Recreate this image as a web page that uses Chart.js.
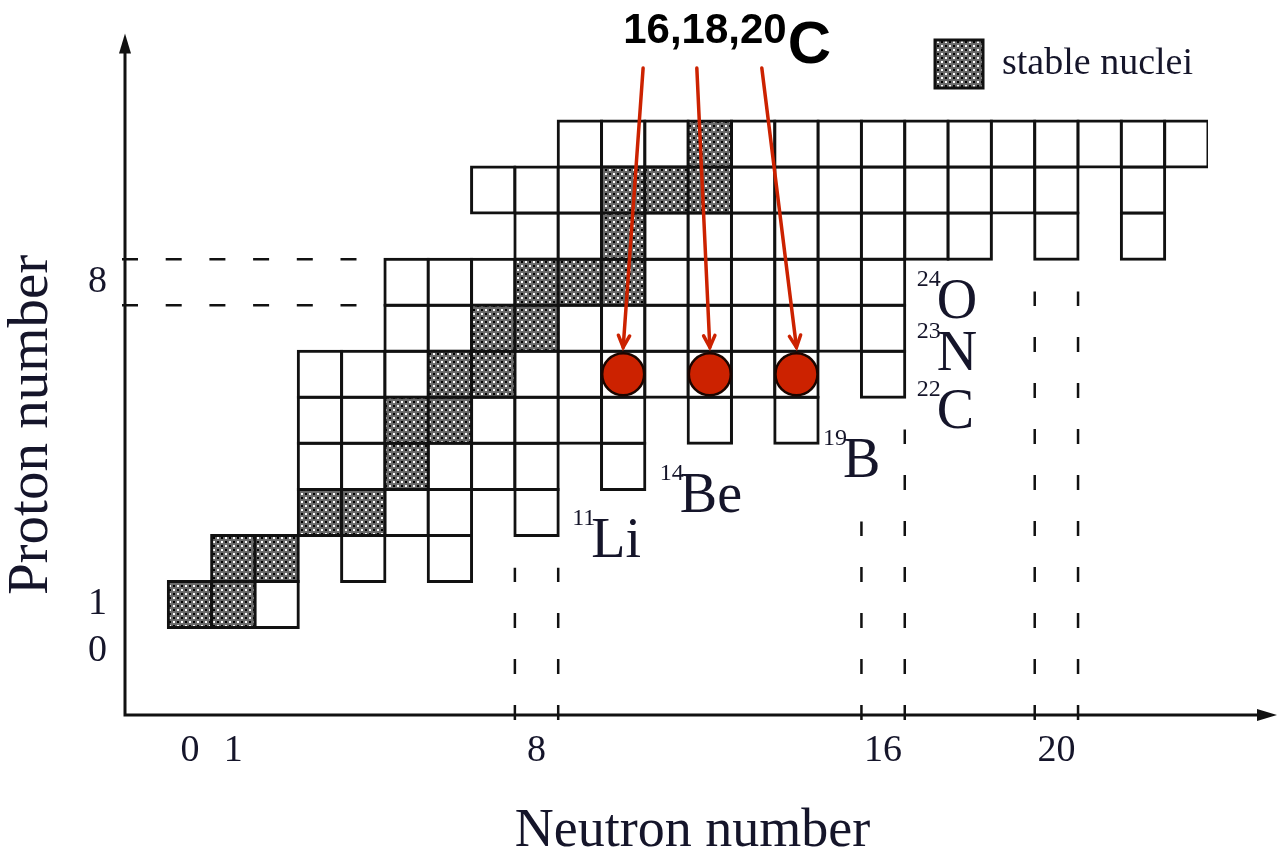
<!DOCTYPE html>
<html>
<head>
<meta charset="utf-8">
<title>Light nuclei and the neutron drip line</title>
<script src="https://cdn.jsdelivr.net/npm/chart.js@4/dist/chart.umd.min.js"></script>
<style>
  html, body { margin: 0; padding: 0; background: #ffffff; }
  #chart { display: block; }
</style>
</head>
<body>
<canvas id="chart" width="1278" height="859"></canvas>
<script>
// ---- chart data -------------------------------------------------------
const elementSymbols = ['H', 'He', 'Li', 'Be', 'B', 'C', 'N', 'O', 'F', 'Ne', 'Na'];
const protonNumbers  = [1, 2, 3, 4, 5, 6, 7, 8, 9, 10, 11];

// neutron numbers of the isotopes drawn in each proton row (same order as protonNumbers)
const isotopeNeutrons = [
  [0, 1, 2],
  [1, 2, 4, 6],
  [3, 4, 5, 6, 8],
  [3, 4, 5, 6, 7, 8, 10],
  [3, 4, 5, 6, 7, 8, 9, 10, 12, 14],
  [3, 4, 5, 6, 7, 8, 9, 10, 11, 12, 13, 14, 16],
  [5, 6, 7, 8, 9, 10, 11, 12, 13, 14, 15, 16],
  [5, 6, 7, 8, 9, 10, 11, 12, 13, 14, 15, 16],
  [8, 9, 10, 11, 12, 13, 14, 15, 16, 17, 18, 20, 22],
  [7, 8, 9, 10, 11, 12, 13, 14, 15, 16, 17, 18, 19, 20, 22],
  [9, 10, 11, 12, 13, 14, 15, 16, 17, 18, 19, 20, 21, 22, 23]
];

// neutron numbers of the stable isotopes in each proton row
const stableNeutrons = [
  [0, 1], [1, 2], [3, 4], [5], [5, 6], [6, 7], [7, 8], [8, 9, 10], [10], [10, 11, 12], [12]
];

// heaviest bound isotope labelled for Li ... O (mass number, proton number)
const dripLineMass = [11, 14, 19, 22, 23, 24];
const dripLineZ    = [3, 4, 5, 6, 7, 8];

// highlighted carbon isotopes
const carbonZ = 6;
const carbonMass = [16, 18, 20];

// axis ticks and magic numbers
const neutronTicks = [0, 1, 8, 16, 20];
const protonTicks  = [0, 1, 8];
const magicNeutrons = [8, 16, 20];
const magicProtons  = [8];

// axis titles
const xTitle = 'Neutron number';
const yTitle = 'Proton number';

// ---- styling / layout -------------------------------------------------
const INK = '#15152a';
const RED = '#cc2200';
const SERIF = "'Liberation Serif', 'Times New Roman', serif";
const SANS = "'Liberation Sans', Arial, sans-serif";

// dashed guide lines: upper end (in proton-number units) of the left / right line of each magic N
const guideTops = { 8: [1.8, 1.8], 16: [2.8, 4.8], 20: [7.8, 7.8] };
const guideLeftEnd = 3.9;  // horizontal guides stop at this neutron number

// label placement next to each drip-line cell: px offset from the cell's right edge / centre
const dripLabelOffsets = { 11: [14, 45], 14: [15, 46], 19: [5, 57], 22: [12, 54], 23: [12, 42], 24: [12, 36] };

// header text and arrow tails, in data units
const headerAnchor = { n: 10.0, z: 13.2 };
const arrowTails = [{ n: 10.46, z: 12.65 }, { n: 11.70, z: 12.65 }, { n: 13.20, z: 12.65 }];

// axis-title centres: x title along N, y title along Z
const xTitleCentreN = 11.6;
const yTitleCentreZ = 4.9;

const canvas = document.getElementById('chart');
const ctx2d = canvas.getContext('2d');

// stippled fill used for stable nuclei
function makeStipple() {
  const tile = document.createElement('canvas');
  tile.width = 8; tile.height = 8;
  const g = tile.getContext('2d');
  g.fillStyle = '#6a6a6a'; g.fillRect(0, 0, 8, 8);
  g.fillStyle = '#ffffff'; g.fillRect(1, 1, 2, 2); g.fillRect(5, 5, 2, 2);
  g.fillStyle = '#000000'; g.fillRect(5, 1, 2, 2); g.fillRect(1, 5, 2, 2);
  return ctx2d.createPattern(tile, 'repeat');
}
const stipple = makeStipple();

// one floating bar per nucleus: x = N, y spans Z-0.5 .. Z+0.5
function cells(stable) {
  const out = [];
  protonNumbers.forEach((z, i) => {
    isotopeNeutrons[i].forEach(n => {
      if (stableNeutrons[i].includes(n) === stable) out.push({ x: n, y: [z - 0.5, z + 0.5] });
    });
  });
  return out;
}

const cellStyle = {
  borderColor: '#111111',
  borderWidth: 3,
  inflateAmount: 1.5,
  borderSkipped: false,
  grouped: false,
  barPercentage: 1,
  categoryPercentage: 1
};

// ---- decorations drawn through the chart scales -----------------------
const decorations = {
  id: 'decorations',
  beforeDatasetsDraw(chart) {
    const { ctx, chartArea: ca, scales: { x, y } } = chart;
    ctx.save();
    ctx.strokeStyle = '#111111';
    ctx.lineWidth = 2.5;
    // vertical guides around magic neutron numbers
    ctx.setLineDash([15, 31]);
    magicNeutrons.forEach(n => {
      [n - 0.5, n + 0.5].forEach((edge, k) => {
        const px = x.getPixelForValue(edge);
        ctx.beginPath();
        ctx.moveTo(px, ca.bottom + 5);
        ctx.lineTo(px, y.getPixelForValue(guideTops[n][k]));
        ctx.stroke();
      });
    });
    // horizontal guides around magic proton numbers
    ctx.setLineDash([16, 27.7]);
    magicProtons.forEach(z => {
      [z - 0.5, z + 0.5].forEach(edge => {
        const py = y.getPixelForValue(edge);
        ctx.beginPath();
        ctx.moveTo(ca.left - 3, py);
        ctx.lineTo(x.getPixelForValue(guideLeftEnd), py);
        ctx.stroke();
      });
    });
    ctx.restore();
  },
  afterDatasetsDraw(chart) {
    const { ctx, scales: { x, y } } = chart;
    ctx.save();

    // drip-line labels, e.g. ^11Li
    ctx.fillStyle = INK;
    ctx.textBaseline = 'alphabetic';
    dripLineMass.forEach((a, i) => {
      const z = dripLineZ[i];
      const n = a - z;
      const [dx, dy] = dripLabelOffsets[a];
      const left = x.getPixelForValue(n + 0.5) + dx;
      const base = y.getPixelForValue(z) + dy;
      ctx.font = `24px ${SERIF}`;
      const supText = String(a);
      ctx.fillText(supText, left, base - 32);
      const supW = ctx.measureText(supText).width;
      ctx.font = `56px ${SERIF}`;
      ctx.fillText(elementSymbols[z - 1], left + supW - 4, base);
    });

    // header "16,18,20C"
    ctx.fillStyle = '#000000';
    const hx = x.getPixelForValue(headerAnchor.n);
    const hy = y.getPixelForValue(headerAnchor.z);
    ctx.font = `bold 42px ${SANS}`;
    const massText = carbonMass.join(',');
    ctx.fillText(massText, hx, hy);
    const mw = ctx.measureText(massText).width;
    ctx.font = `bold 60px ${SANS}`;
    ctx.fillText(elementSymbols[carbonZ - 1], hx + mw + 1, hy + 20);

    // red arrows from the header to the highlighted isotopes
    ctx.strokeStyle = RED;
    ctx.lineWidth = 3.5;
    ctx.lineCap = 'round';
    carbonMass.forEach((a, i) => {
      const tail = arrowTails[i];
      const x0 = x.getPixelForValue(tail.n), y0 = y.getPixelForValue(tail.z);
      const x1 = x.getPixelForValue(a - carbonZ);
      const y1 = y.getPixelForValue(carbonZ) - 21 - 6;
      ctx.beginPath();
      ctx.moveTo(x0, y0); ctx.lineTo(x1, y1);
      ctx.stroke();
      const ang = Math.atan2(y1 - y0, x1 - x0);
      const L = 13, spread = 0.45;
      ctx.beginPath();
      ctx.moveTo(x1 - L * Math.cos(ang - spread), y1 - L * Math.sin(ang - spread));
      ctx.lineTo(x1, y1);
      ctx.lineTo(x1 - L * Math.cos(ang + spread), y1 - L * Math.sin(ang + spread));
      ctx.stroke();
    });
    ctx.restore();
  },
  afterDraw(chart) {
    const { ctx, chartArea: ca, scales: { x, y } } = chart;
    ctx.save();
    ctx.strokeStyle = '#111111';
    ctx.fillStyle = '#111111';
    ctx.lineWidth = 3;
    const ox = ca.left, oy = ca.bottom;
    const yTip = y.getPixelForValue(13.4);
    const xTip = chart.width - 1;
    // axis lines
    ctx.beginPath();
    ctx.moveTo(ox, oy + 1.5); ctx.lineTo(ox, yTip + 16);
    ctx.moveTo(ox - 1.5, oy); ctx.lineTo(xTip - 16, oy);
    ctx.stroke();
    // arrow heads
    ctx.beginPath();
    ctx.moveTo(ox, yTip); ctx.lineTo(ox - 6, yTip + 20); ctx.lineTo(ox + 6, yTip + 20); ctx.closePath();
    ctx.fill();
    ctx.beginPath();
    ctx.moveTo(xTip, oy); ctx.lineTo(xTip - 20, oy - 6); ctx.lineTo(xTip - 20, oy + 6); ctx.closePath();
    ctx.fill();

    // axis titles
    ctx.fillStyle = INK;
    ctx.textAlign = 'center';
    ctx.textBaseline = 'middle';
    ctx.font = `54px ${SERIF}`;
    ctx.fillText(xTitle, x.getPixelForValue(xTitleCentreN), chart.height - 27);
    ctx.save();
    ctx.translate(32.5, y.getPixelForValue(yTitleCentreZ));
    ctx.rotate(-Math.PI / 2);
    ctx.font = `57px ${SERIF}`;
    ctx.fillText(yTitle, 0, 0);
    ctx.restore();
    ctx.restore();
  }
};

new Chart(canvas, {
  type: 'bar',
  data: {
    datasets: [
      {
        type: 'scatter',
        label: carbonMass.join(',') + elementSymbols[carbonZ - 1],
        data: carbonMass.map(a => ({ x: a - carbonZ, y: carbonZ })),
        pointRadius: 21,
        pointHoverRadius: 21,
        backgroundColor: RED,
        borderColor: '#1a0500',
        borderWidth: 2.5,
        order: 0
      },
      Object.assign({ label: 'stable nuclei', data: cells(true), backgroundColor: stipple, order: 1 }, cellStyle),
      Object.assign({ label: 'unstable nuclei', data: cells(false), backgroundColor: '#ffffff', order: 2 }, cellStyle)
    ]
  },
  options: {
    responsive: false,
    animation: false,
    devicePixelRatio: 1,
    layout: { padding: { top: 25, right: 70, left: 70, bottom: 72.4 } },
    plugins: {
      tooltip: { enabled: false },
      legend: {
        display: true,
        position: 'top',
        align: 'end',
        labels: {
          boxWidth: 48,
          boxHeight: 48,
          padding: 15,
          color: INK,
          font: { family: SERIF, size: 38 },
          filter: item => item.text === 'stable nuclei'
        }
      }
    },
    scales: {
      x: {
        type: 'linear',
        min: -1.5,
        max: 23.5,
        offset: false,
        grid: { display: false, drawTicks: false },
        border: { display: false },
        afterBuildTicks: s => { s.ticks = neutronTicks.map(v => ({ value: v })); },
        ticks: {
          autoSkip: false, maxRotation: 0, padding: 13, color: INK,
          font: { family: SERIF, size: 38 },
          callback: v => String(v)
        },
        title: { display: false }
      },
      y: {
        type: 'linear',
        min: -1.4,
        max: 12,
        grid: { display: false, drawTicks: false },
        border: { display: false },
        afterBuildTicks: s => { s.ticks = protonTicks.map(v => ({ value: v })); },
        ticks: {
          autoSkip: false, padding: 18, color: INK,
          font: { family: SERIF, size: 38 },
          callback: v => String(v)
        },
        title: { display: false }
      }
    }
  },
  plugins: [decorations]
});
</script>
</body>
</html>
